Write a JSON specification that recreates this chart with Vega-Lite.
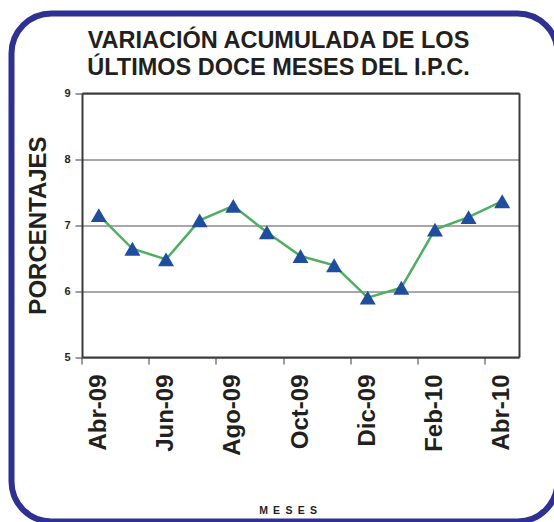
{
  "$schema": "https://vega.github.io/schema/vega-lite/v6.json",
  "width": 546,
  "height": 508,
  "autosize": {"type": "none"},
  "padding": {"left": 11.5, "top": 13.5, "right": 0, "bottom": 0},
  "background": "#ffffff",
  "config": {
    "font": "Liberation Sans",
    "view": {"stroke": "#2e3192", "strokeWidth": 6, "cornerRadius": 40},
    "axis": {
      "domainColor": "#3a3a3a",
      "domainWidth": 2,
      "tickColor": "#3a3a3a",
      "labelColor": "#231f20",
      "titleColor": "#231f20",
      "labelFont": "Liberation Sans",
      "titleFont": "Liberation Sans"
    }
  },
  "title": {
    "text": ["VARIACIÓN ACUMULADA DE LOS", "ÚLTIMOS DOCE MESES DEL I.P.C."],
    "font": "Liberation Sans",
    "fontSize": 23.5,
    "fontWeight": "bold",
    "color": "#231f20",
    "anchor": "middle",
    "frame": "group",
    "lineHeight": 27,
    "offset": -65.5,
    "dx": -6
  },
  "data": {
    "values": [
      {"mes": "Abr-09", "ipc": 7.15},
      {"mes": "May-09", "ipc": 6.64},
      {"mes": "Jun-09", "ipc": 6.48},
      {"mes": "Jul-09", "ipc": 7.07},
      {"mes": "Ago-09", "ipc": 7.29},
      {"mes": "Sep-09", "ipc": 6.89},
      {"mes": "Oct-09", "ipc": 6.53},
      {"mes": "Nov-09", "ipc": 6.39},
      {"mes": "Dic-09", "ipc": 5.9},
      {"mes": "Ene-10", "ipc": 6.05},
      {"mes": "Feb-10", "ipc": 6.93},
      {"mes": "Mar-10", "ipc": 7.12},
      {"mes": "Abr-10", "ipc": 7.36}
    ]
  },
  "layer": [
    {
      "mark": {"type": "line", "color": "#4fae5f", "strokeWidth": 2.5},
      "encoding": {
        "x": {
          "field": "mes",
          "type": "ordinal",
          "sort": null,
          "scale": {"type": "band", "range": [70.5, 507.5], "paddingInner": 0, "paddingOuter": 0},
          "axis": {
            "orient": "bottom",
            "offset": -164.5,
            "values": ["Abr-09", "Jun-09", "Ago-09", "Oct-09", "Dic-09", "Feb-10", "Abr-10"],
            "bandPosition": 0,
            "labelOffset": 0,
            "labelAngle": -90,
            "labelFontSize": 24,
            "labelFontWeight": "bold",
            "labelPadding": 10,
            "tickSize": 7,
            "tickWidth": 1,
            "grid": false,
            "title": "M\u2002E\u2002S\u2002E\u2002S",
            "titleFontSize": 10.5,
            "titleFontWeight": "bold",
            "titleX": 276,
            "titleY": 156,
            "titleBaseline": "alphabetic"
          }
        },
        "y": {
          "field": "ipc",
          "type": "quantitative",
          "scale": {"domain": [5, 9], "range": [343.5, 79.5], "zero": false, "nice": false},
          "axis": {
            "orient": "left",
            "offset": -70.5,
            "values": [5, 6, 7, 8, 9],
            "grid": true,
            "gridColor": "#505050",
            "gridWidth": 1,
            "labelFontSize": 11,
            "labelFontWeight": "bold",
            "labelPadding": 5,
            "tickSize": 7,
            "tickWidth": 1,
            "title": "PORCENTAJES",
            "titleFontSize": 24,
            "titleFontWeight": "bold",
            "titleX": -37,
            "titleBaseline": "alphabetic"
          }
        }
      }
    },
    {
      "mark": {"type": "point", "shape": "triangle-up", "filled": true, "size": 256, "color": "#1f4e9f", "opacity": 1},
      "encoding": {
        "x": {
          "field": "mes",
          "type": "ordinal",
          "sort": null,
          "axis": {"orient": "top", "offset": -79.5, "labels": false, "ticks": false, "grid": false, "title": null}
        },
        "y": {
          "field": "ipc",
          "type": "quantitative",
          "axis": {"orient": "right", "offset": -38.5, "labels": false, "ticks": false, "grid": false, "title": null}
        }
      }
    }
  ],
  "resolve": {"axis": {"x": "independent", "y": "independent"}}
}
